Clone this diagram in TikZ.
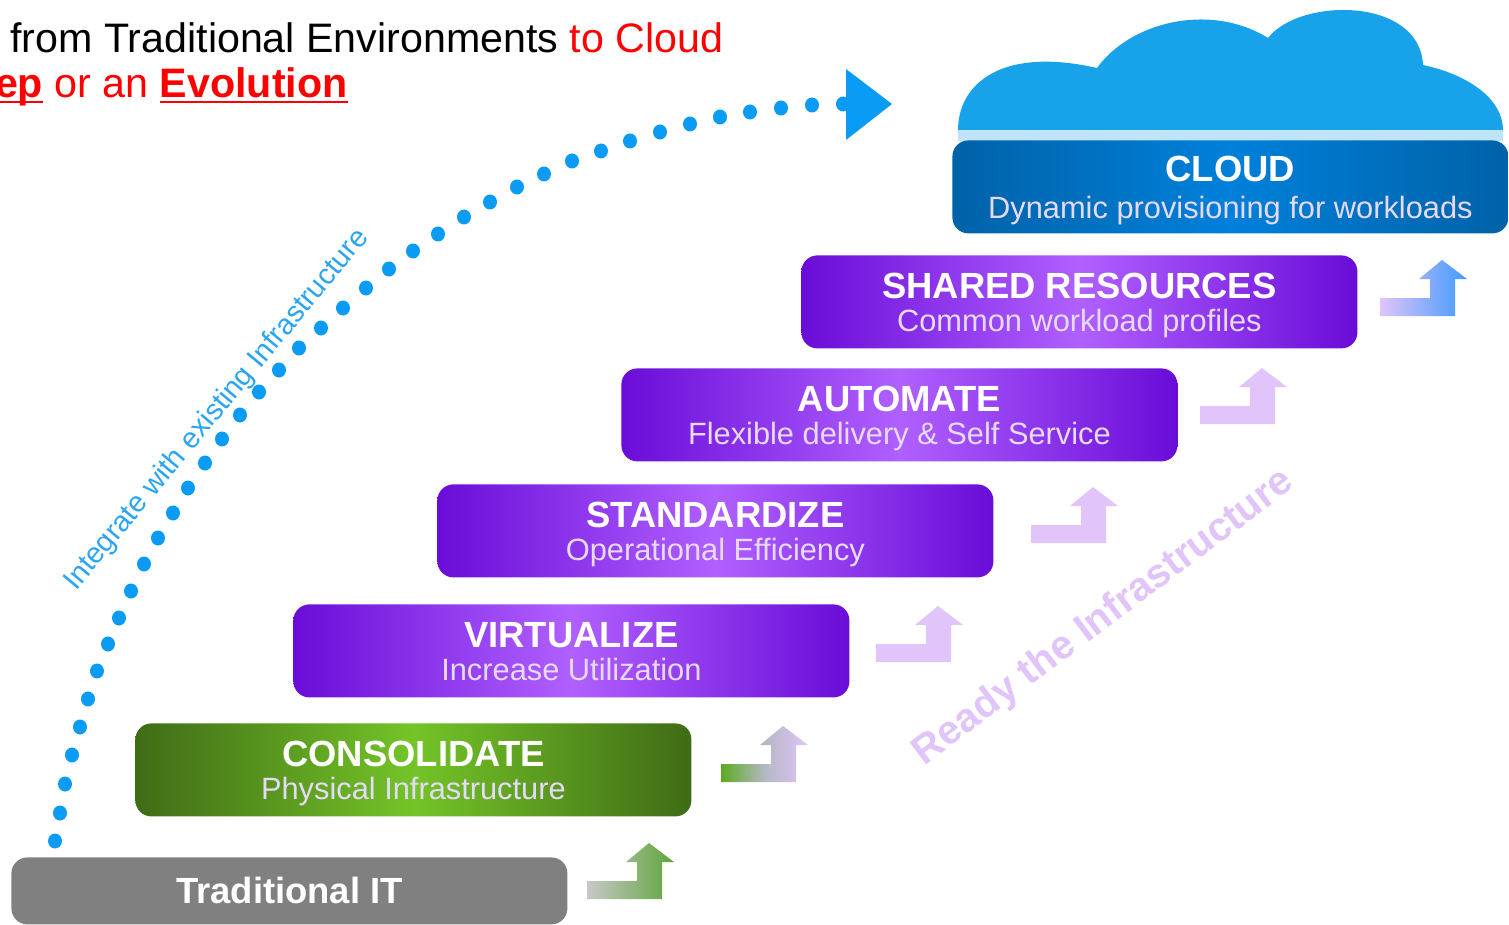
\documentclass[tikz,border=0pt]{standalone}
\usepackage{fontspec}
\setmainfont{Liberation Sans}
\definecolor{dotblue}{HTML}{0A9BF5}
\definecolor{cloudblue}{HTML}{18A2EA}
\definecolor{bandblue}{HTML}{BFE4F9}
\definecolor{intblue}{HTML}{2AA5F5}
\definecolor{lilac}{HTML}{E0C4FA}
\definecolor{subtxt}{HTML}{E6DAFA}
\definecolor{purpleedge}{HTML}{6A0CD8}
\definecolor{purplemid}{HTML}{B060FF}
\definecolor{greenedge}{HTML}{3F6B16}
\definecolor{greenmid}{HTML}{74C428}
\definecolor{cloudedge}{HTML}{0062A8}
\definecolor{cloudmid}{HTML}{0080DA}
\definecolor{greybar}{HTML}{808080}
\definecolor{arrowgreen}{HTML}{5FA53A}
\definecolor{arrowlime}{HTML}{5CAA20}
\definecolor{arrowgrey}{HTML}{C8C8C8}
\definecolor{arrowblue}{HTML}{3F9BFF}
\definecolor{arrowmix}{HTML}{B4B8C4}
\definecolor{titlered}{HTML}{FF0000}
\newcommand{\barplain}[1]{{\fontsize{18.2}{19}\selectfont\bfseries #1}}
\newcommand{\bartitle}[1]{\rule{0pt}{16.5pt}\barplain{#1}}
\newcommand{\barsub}[1]{\rule[-3.3pt]{0pt}{1pt}{\fontsize{15.4}{16}\selectfont\color{subtxt} #1}}
\newcommand{\redul}[1]{\setbox0\hbox{#1}\rlap{\rule[-2.6pt]{\wd0}{1.1pt}}\box0\relax}
% step arrow: x of tail, y of bottom, left colour, right colour
\newcommand{\steparrow}[4]{%
  \shade[left color=#3,right color=#4,shift={(#1,#2)}]
    (0,0) -- (0,-18) -- (50,-18) -- (50,-37) -- (39,-37) -- (62,-56) -- (87,-37) -- (75,-37) -- (75,0) -- cycle;}
\tikzset{
  x=0.5pt,y=-0.5pt,
  barbox/.style={rounded corners=8pt,minimum width=278pt,minimum height=46.5pt,inner sep=0pt,
    text=white,align=center,anchor=north west},
  purplebar/.style={barbox,left color=purpleedge,right color=purpleedge,middle color=purplemid},
  titleline/.style={anchor=base west,inner sep=0pt,font=\fontsize{20.6}{21}\selectfont},
}
\begin{document}
\begin{tikzpicture}
\clip (0,0) rectangle (1509,925);
\fill[white] (0,0) rectangle (1509,925);
% heading
\node[titleline] (head1) at (10,53) {from Traditional Environments \textcolor{titlered}{to Cloud}};
\node[titleline,anchor=base east,text=titlered] (head2) at (348,98) {\redul{\textbf{ep}} or an \redul{\textbf{Evolution}}};
% cloud
\fill[bandblue] (958,130) rectangle (1503,141);
\fill[cloudblue] (958,130) .. controls (958,85) and (1000,46) .. (1097,68)
  .. controls (1130,22) and (1210,2) .. (1268,38)
  .. controls (1300,-3) and (1420,-3) .. (1423,65)
  .. controls (1470,75) and (1503,100) .. (1503,130) -- cycle;
% bars
\node[barbox,minimum height=33.5pt,fill=greybar] (trad) at (11,857) {\barplain{Traditional IT}};
\node[barbox,left color=greenedge,right color=greenedge,middle color=greenmid] (cons) at (135,723)
  {\bartitle{CONSOLIDATE}\\[4.8pt]\barsub{Physical Infrastructure}};
\node[purplebar] (virt) at (293,604) {\bartitle{VIRTUALIZE}\\[4.8pt]\barsub{Increase Utilization}};
\node[purplebar] (stan) at (437,484) {\bartitle{STANDARDIZE}\\[4.8pt]\barsub{Operational Efficiency}};
\node[purplebar] (auto) at (621,368) {\bartitle{AUTOMATE}\\[4.8pt]\barsub{Flexible delivery \& Self Service}};
\node[purplebar] (shar) at (801,255) {\bartitle{SHARED RESOURCES}\\[4.8pt]\barsub{Common workload profiles}};
\node[barbox,left color=cloudedge,right color=cloudedge,middle color=cloudmid] (clou) at (952,140)
  {\bartitle{CLOUD}\\[6.4pt]\barsub{Dynamic provisioning for workloads}};
% step arrows
\steparrow{587}{899}{arrowgrey}{arrowgreen}
\shade[left color=arrowlime,right color=lilac,middle color=arrowmix,shift={(721,782)}]
    (0,0) -- (0,-18) -- (50,-18) -- (50,-37) -- (39,-37) -- (62,-56) -- (87,-37) -- (75,-37) -- (75,0) -- cycle;
\steparrow{876}{662}{lilac}{lilac}
\steparrow{1031}{543}{lilac}{lilac}
\steparrow{1200}{424}{lilac}{lilac}
\steparrow{1380}{316}{lilac}{arrowblue}
% dotted curve
\foreach \px/\py in {55/841,60/813,65/784,72/755,80/727,88/699,97/671,108/644,119/618,131/591,144/564,158/538,173/513,188/488,205/463,222/439,240/415,259/392,279/370,299/348,321/328,343/308,366/288,389/269,413/251,438/234,464/217,490/202,517/187,544/174,572/161,601/151,630/141,660/132,690/124,720/117,750/112,781/108,812/105,843/104}
  \fill[dotblue] (\px,\py) ellipse [x radius=7,y radius=7.5];
\fill[dotblue] (846,69) -- (892,104) -- (846,140) -- cycle;
% slanted labels
\node[rotate=50.3,text=intblue,inner sep=0pt,font=\fontsize{14.5}{15}\selectfont] (integ) at (217,410) {Integrate with existing Infrastructure};
\node[rotate=37,text=lilac,inner sep=0pt,font=\fontsize{20.1}{21}\selectfont\bfseries] (ready) at (1104,618) {Ready the Infrastructure};
\end{tikzpicture}
\end{document}
